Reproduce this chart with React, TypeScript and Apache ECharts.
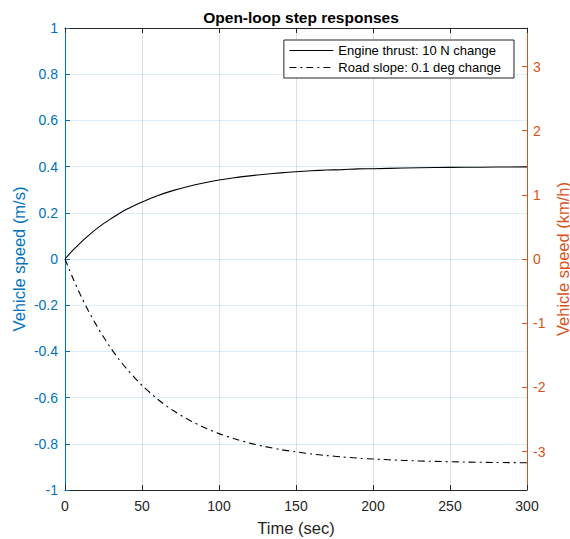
import React, { useEffect, useRef } from "react";
import * as echarts from "echarts";

const timeSec = [0, 5, 10, 15, 20, 25, 30, 35, 40, 45, 50, 60, 70, 80, 90, 100, 110, 120, 130, 140, 150, 160, 170, 180, 190, 200, 220, 240, 260, 280, 300];
const thrustSpeed = [0, 0.037, 0.070, 0.100, 0.128, 0.153, 0.175, 0.196, 0.215, 0.232, 0.247, 0.274, 0.296, 0.314, 0.329, 0.342, 0.352, 0.360, 0.367, 0.373, 0.378, 0.382, 0.385, 0.387, 0.390, 0.391, 0.394, 0.396, 0.397, 0.398, 0.399];
const slopeSpeed = [0, -0.081, -0.155, -0.222, -0.282, -0.338, -0.388, -0.434, -0.475, -0.512, -0.547, -0.606, -0.655, -0.695, -0.728, -0.756, -0.778, -0.797, -0.812, -0.825, -0.835, -0.844, -0.851, -0.857, -0.862, -0.866, -0.872, -0.876, -0.879, -0.881, -0.882];
const kmhTicks = [-3, -2, -1, 0, 1, 2, 3];
const seriesNames = ["Engine thrust: 10 N change", "Road slope: 0.1 deg change"];

const FONT = "'Liberation Sans', Arial, Helvetica, sans-serif";
const BLUE = "#0072BD";
const ORANGE = "#D95319";
const DARK = "#262626";

export default function App() {
  const ref = useRef<HTMLDivElement>(null);
  useEffect(() => {
    if (!ref.current) return;
    const chart = echarts.init(ref.current, undefined, { renderer: "svg" });
    const fmt = (v: number) => String(Number(v.toFixed(2)));
    chart.setOption({
      animation: false,
      backgroundColor: "#ffffff",
      textStyle: { fontFamily: FONT },
      title: {
        text: "Open-loop step responses",
        left: 296,
        textAlign: "center",
        top: 4,
        textStyle: { fontFamily: FONT, fontSize: 15.5, fontWeight: "bold", color: "#000" },
      },
      grid: { left: 65, right: 43, top: 28, bottom: 49, containLabel: false, outerBoundsMode: "none" },
      legend: {
        data: seriesNames,
        orient: "vertical",
        right: 56,
        top: 40,
        itemWidth: 44,
        itemHeight: 14,
        itemGap: 4,
        padding: [4, 13, 4, 5],
        borderColor: DARK,
        borderWidth: 1,
        borderRadius: 0,
        backgroundColor: "#fff",
        itemStyle: { opacity: 0 },
        lineStyle: { width: 1 },
        textStyle: { fontFamily: FONT, fontSize: 13, color: "#000" },
      },
      xAxis: [
        {
          type: "value",
          min: 0,
          max: 300,
          interval: 50,
          position: "bottom",
          name: "Time (sec)",
          nameLocation: "middle",
          nameGap: 29,
          nameTextStyle: { fontFamily: FONT, fontSize: 16.5, color: DARK },
          axisLine: { show: true, onZero: false, lineStyle: { color: DARK, width: 1 } },
          axisTick: { show: true, inside: true, length: 5, lineStyle: { color: DARK } },
          axisLabel: { margin: 9, fontFamily: FONT, fontSize: 14, color: DARK },
          splitLine: { show: true, lineStyle: { color: "rgba(38,38,38,0.15)", width: 1 } },
        },
        {
          type: "value",
          min: 0,
          max: 300,
          interval: 50,
          position: "top",
          axisLine: { show: true, onZero: false, lineStyle: { color: DARK, width: 1 } },
          axisTick: { show: true, inside: true, length: 5, lineStyle: { color: DARK } },
          axisLabel: { show: false },
          splitLine: { show: false },
        },
      ],
      yAxis: [
        {
          type: "value",
          min: -1,
          max: 1,
          interval: 0.2,
          position: "left",
          name: "Vehicle speed (m/s)",
          nameLocation: "middle",
          nameRotate: 90,
          nameGap: 38,
          nameMoveOverlap: false,
          nameTextStyle: { fontFamily: FONT, fontSize: 16.5, color: BLUE },
          axisLine: { show: true, onZero: false, lineStyle: { color: BLUE, width: 1 } },
          axisTick: { show: true, inside: true, length: 5, lineStyle: { color: BLUE } },
          axisLabel: { margin: 7, fontFamily: FONT, fontSize: 14, color: BLUE, formatter: fmt },
          splitLine: { show: true, lineStyle: { color: "rgba(0,114,189,0.13)", width: 1 } },
        },
        {
          type: "value",
          min: -3.6,
          max: 3.6,
          position: "right",
          name: "Vehicle speed (km/h)",
          nameLocation: "middle",
          nameRotate: 90,
          nameGap: 27,
          nameMoveOverlap: false,
          nameTextStyle: { fontFamily: FONT, fontSize: 16.5, color: ORANGE },
          axisLine: { show: true, onZero: false, lineStyle: { color: ORANGE, width: 1 } },
          axisTick: { show: true, inside: true, length: 5, lineStyle: { color: ORANGE }, customValues: kmhTicks },
          axisLabel: { margin: 6, fontFamily: FONT, fontSize: 14, color: ORANGE, customValues: kmhTicks, formatter: (v: number) => String(Math.round(v)) },
          splitLine: { show: false },
        },
      ],
      series: [
        {
          name: seriesNames[0],
          type: "line",
          xAxisIndex: 0,
          yAxisIndex: 0,
          data: timeSec.map((t, i) => [t, thrustSpeed[i]]),
          showSymbol: false,
          symbol: "none",
          smooth: 0.3,
          lineStyle: { color: "#000", width: 1.1, type: "solid" },
          itemStyle: { color: "#000" },
          z: 5,
        },
        {
          name: seriesNames[1],
          type: "line",
          xAxisIndex: 0,
          yAxisIndex: 0,
          data: timeSec.map((t, i) => [t, slopeSpeed[i]]),
          showSymbol: false,
          symbol: "none",
          smooth: 0.3,
          lineStyle: { color: "#000", width: 1.1, type: [7, 4, 2, 4] },
          itemStyle: { color: "#000" },
          z: 5,
        },
      ],
    });
    return () => chart.dispose();
  }, []);
  return <div ref={ref} style={{ width: 570, height: 539, position: "absolute", left: 0, top: 0 }} />;
}
